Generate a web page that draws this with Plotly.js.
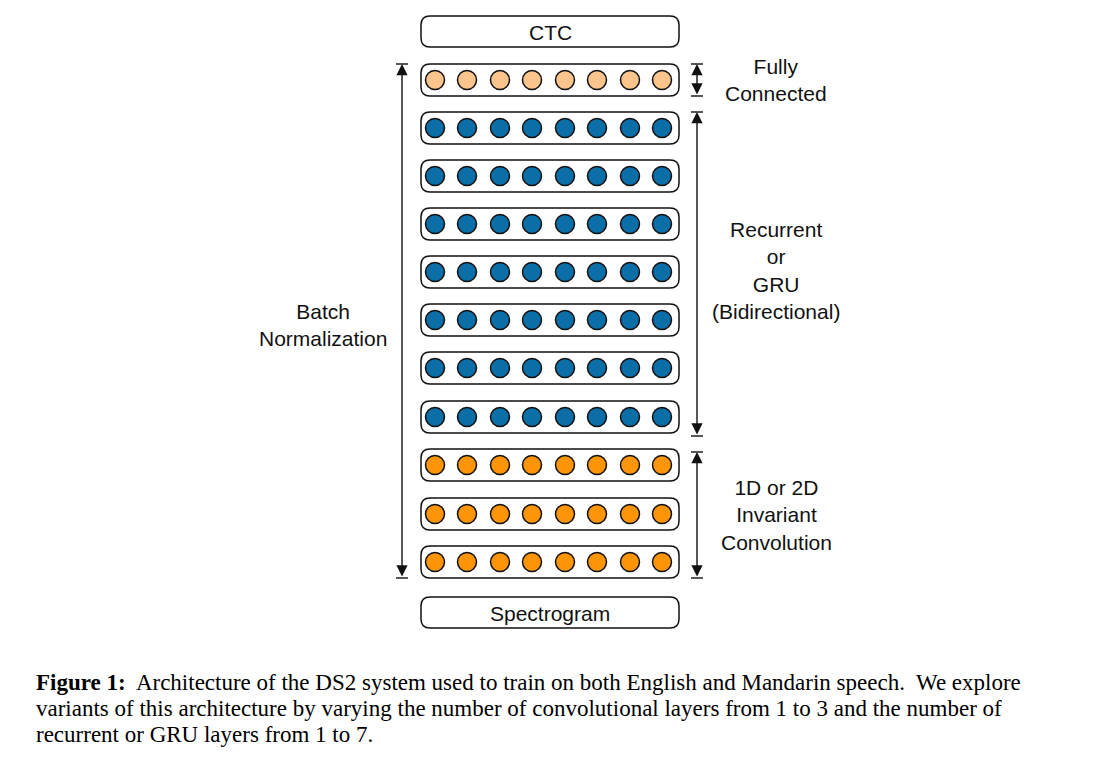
<!DOCTYPE html>
<html>
<head>
<meta charset="utf-8">
<script src="https://cdn.plot.ly/plotly-3.0.1.min.js"></script>
<style>body{margin:0;background:#fff}#chart{width:1095px;height:760px}</style>
</head>
<body>
<div id="chart"></div>
<script>
// layer stack, top to bottom
var layerKinds = ['fc', 'rnn', 'rnn', 'rnn', 'rnn', 'rnn', 'rnn', 'rnn', 'conv', 'conv', 'conv'];
var layerY = [80, 128, 176, 224, 272, 320, 368, 417, 465, 514, 562];
var unitX = [435, 467, 500, 532, 565, 597, 630, 662];
var kindColor = {fc: '#fcc58c', rnn: '#0b6ea6', conv: '#fe9408'};

var groupLabels = ['Fully<br>Connected', 'Recurrent<br>or<br>GRU<br>(Bidirectional)', '1D or 2D<br>Invariant<br>Convolution', 'Batch<br>Normalization'];
var groupSpan = [[64, 96], [112, 436], [452, 578], [64, 578]];
var caption = [
  '<b>Figure 1:</b>  Architecture of the DS2 system used to train on both English and Mandarin speech.  We explore',
  'variants of this architecture by varying the number of convolutional layers from 1 to 3 and the number of',
  'recurrent or GRU layers from 1 to 7.'
];

function rounded(x0, y0, x1, y1, r) {
  return 'M' + (x0 + r) + ',' + y0 + ' L' + (x1 - r) + ',' + y0 + ' Q' + x1 + ',' + y0 + ' ' + x1 + ',' + (y0 + r) +
    ' L' + x1 + ',' + (y1 - r) + ' Q' + x1 + ',' + y1 + ' ' + (x1 - r) + ',' + y1 +
    ' L' + (x0 + r) + ',' + y1 + ' Q' + x0 + ',' + y1 + ' ' + x0 + ',' + (y1 - r) +
    ' L' + x0 + ',' + (y0 + r) + ' Q' + x0 + ',' + y0 + ' ' + (x0 + r) + ',' + y0 + ' Z';
}

var shapes = [];
var boxLine = {color: '#111', width: 1.5};
shapes.push({type: 'path', path: rounded(421, 16, 679, 47, 9), line: boxLine});
shapes.push({type: 'path', path: rounded(421, 597, 679, 628, 9), line: boxLine});
layerY.forEach(function (y) {
  shapes.push({type: 'path', path: rounded(421, y - 16, 679, y + 16, 9), line: boxLine, layer: 'below'});
});

var traces = [];
['fc', 'rnn', 'conv'].forEach(function (k) {
  var xs = [], ys = [];
  layerKinds.forEach(function (kind, i) {
    if (kind !== k) return;
    unitX.forEach(function (x) { xs.push(x); ys.push(layerY[i]); });
  });
  traces.push({x: xs, y: ys, type: 'scatter', mode: 'markers', hoverinfo: 'skip',
    marker: {size: 19, color: kindColor[k], line: {color: '#111', width: 1.5}}});
});

var annotations = [];
var font = {family: 'Liberation Sans, Arial', size: 21, color: '#111'};
annotations.push({x: 550, y: 32, text: 'CTC', showarrow: false, font: font});
annotations.push({x: 550, y: 613, text: 'Spectrogram', showarrow: false, font: font});

var labelPos = [[776, 80], [776, 270], [776, 515], [323, 325]];
groupSpan.forEach(function (s, i) {
  var bx = i === 3 ? 402 : 697;
  annotations.push({x: bx, y: s[0], ax: bx, ay: s[1], axref: 'x', ayref: 'y', xref: 'x', yref: 'y',
    text: '', showarrow: true, arrowhead: 2, arrowsize: 1.6, arrowwidth: 1.4, arrowside: 'end+start', arrowcolor: '#111',
    standoff: 0, startstandoff: 0});
  shapes.push({type: 'line', x0: bx - 6, x1: bx + 6, y0: s[0], y1: s[0], line: {color: '#111', width: 1.4}});
  shapes.push({type: 'line', x0: bx - 6, x1: bx + 6, y0: s[1], y1: s[1], line: {color: '#111', width: 1.4}});
  annotations.push({x: labelPos[i][0], y: labelPos[i][1], text: groupLabels[i], showarrow: false,
    font: font, align: 'center'});
});

caption.forEach(function (line, i) {
  annotations.push({x: 34, y: 682 + i * 26, xanchor: 'left', text: line, showarrow: false,
    font: {family: 'Liberation Serif, Times New Roman', size: 23, color: '#000'}});
});

var layout = {
  width: 1095, height: 760, margin: {l: 0, r: 0, t: 0, b: 0},
  paper_bgcolor: '#fff', plot_bgcolor: '#fff', showlegend: false,
  xaxis: {range: [0, 1095], visible: false, fixedrange: true},
  yaxis: {range: [760, 0], visible: false, fixedrange: true},
  shapes: shapes, annotations: annotations
};
Plotly.newPlot('chart', traces, layout, {staticPlot: true});
</script>
</body>
</html>
